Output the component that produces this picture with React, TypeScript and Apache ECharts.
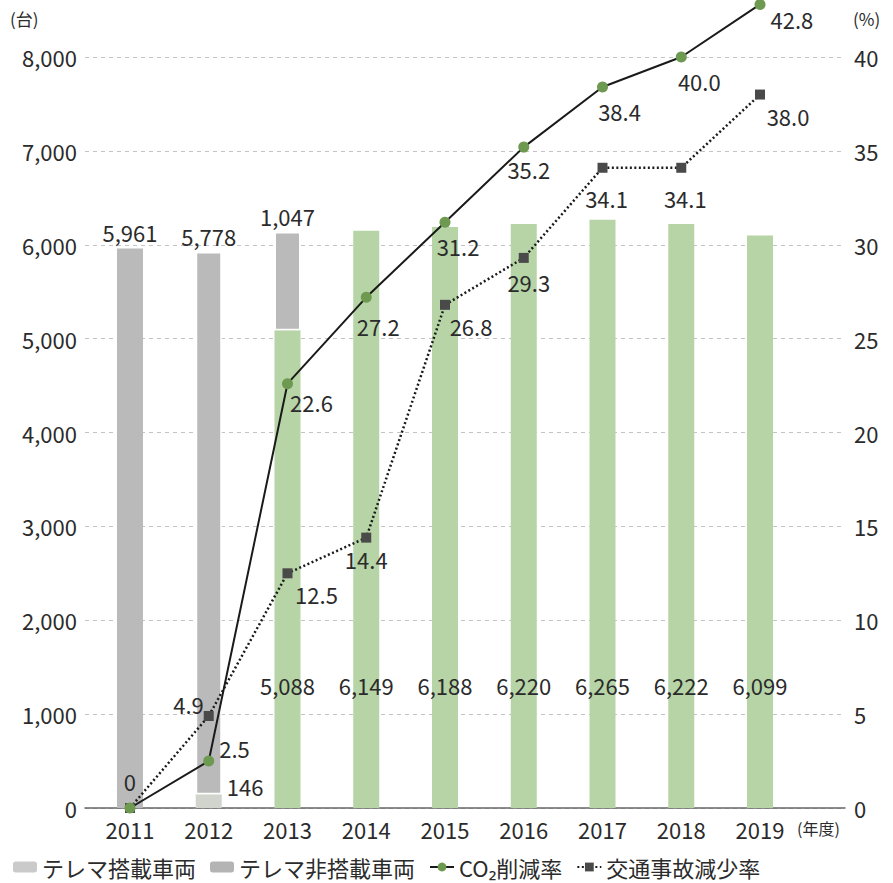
import React, { useEffect, useRef } from "react";
import * as echarts from "echarts";

const years = ["2011", "2012", "2013", "2014", "2015", "2016", "2017", "2018", "2019"];
const equipped = [0, 146, 5088, 6149, 6188, 6220, 6265, 6222, 6099];
const nonEquipped = [5961, 5778, 1047, 0, 0, 0, 0, 0, 0];
const co2Rate = [0, 2.5, 22.6, 27.2, 31.2, 35.2, 38.4, 40.0, 42.8];
const accidentRate = [0, 4.9, 12.5, 14.4, 26.8, 29.3, 34.1, 34.1, 38.0];
const leftTicks = { min: 0, max: 8000, interval: 1000 };
const rightTicks = { min: 0, max: 40, interval: 5 };

// label placement (style only)
const co2LabelPlace: any[] = [
  null,
  ["right", [0, -13]],
  ["bottom", [24, -3]],
  ["bottom", [12, 7]],
  ["bottom", [13, 2]],
  ["bottom", [5, 0]],
  ["bottom", [17, 2]],
  ["bottom", [18, 2]],
  ["right", [0, 15]],
];
const accLabelPlace: any[] = [
  ["top", [0, -6]],
  ["left", [5, -12]],
  ["bottom", [29, 0]],
  ["bottom", [0, 0]],
  ["bottom", [26, 0]],
  ["bottom", [5, 3]],
  ["bottom", [4, 9]],
  ["bottom", [4, 9]],
  ["bottom", [28, 0]],
];

const FONT = "'Noto Sans CJK JP', 'Noto Sans', sans-serif";
const TXT = "#2b2b2b";
const GREEN = "#b6d4a6";
const GRAY = "#bababa";

const fmt = (v: number) => String(v).replace(/\B(?=(\d{3})+(?!\d))/g, ",");

export default function App() {
  const ref = useRef<HTMLDivElement>(null);
  useEffect(() => {
    if (!ref.current) return;
    const chart = echarts.init(ref.current, undefined, { renderer: "svg" });
    const labelBase = { fontSize: 22, color: TXT, fontFamily: FONT };

    const equippedData = equipped.map((v, i) => {
      const item: any = { value: v };
      if (i === 0) item.label = { show: false };
      else if (i === 1) {
        item.itemStyle = { color: "#d0d4cc" };
        item.label = { show: true, position: "right", offset: [0, -15] };
      }
      return item;
    });
    const nonEquippedData = nonEquipped.map((v, i) => {
      const item: any = { value: v, label: { show: v > 0 } };
      if (v > 0 && equipped[i] > 0) item.itemStyle = { borderColor: "#fff", borderWidth: 1.5 };
      return item;
    });

    const co2Data = co2Rate.map((v, i) => {
      const p = co2LabelPlace[i];
      return p
        ? { value: v, label: { show: true, position: p[0], offset: p[1] } }
        : { value: v, label: { show: false } };
    });
    const accData = accidentRate.map((v, i) => {
      const p = accLabelPlace[i];
      return { value: v, label: { show: true, position: p[0], offset: p[1] } };
    });
    const pct = (p: any) => (p.value === 0 ? "0" : Number(p.value).toFixed(1));

    chart.setOption({
      animation: false,
      textStyle: { fontFamily: FONT },
      grid: [
        { left: 85, right: 48, top: 57, bottom: 75 },
        { left: 90.6, right: 93.6, top: 57, bottom: 75 },
      ],
      xAxis: [
        {
          type: "category",
          gridIndex: 0,
          data: [""],
          axisLine: { show: true, lineStyle: { color: "#666", width: 1.5 } },
          axisTick: { show: false },
          axisLabel: { show: false },
        },
        {
          type: "category",
          gridIndex: 1,
          data: years,
          axisLine: { show: false },
          axisTick: { show: false },
          axisLabel: { fontSize: 22, color: TXT, margin: 10, fontFamily: FONT },
        },
      ],
      yAxis: [
        {
          type: "value",
          gridIndex: 0,
          position: "left",
          ...leftTicks,
          axisLine: { show: false },
          axisTick: { show: false },
          axisLabel: { fontSize: 22, color: TXT, margin: 8, fontFamily: FONT, formatter: (v: number) => fmt(v) },
          splitLine: { show: true, lineStyle: { color: "#c4c4c4", type: [4, 4], width: 1 } },
        },
        {
          type: "value",
          gridIndex: 0,
          position: "right",
          ...rightTicks,
          axisLine: { show: false },
          axisTick: { show: false },
          axisLabel: { fontSize: 22, color: TXT, margin: 9, fontFamily: FONT },
          splitLine: { show: false },
        },
        { type: "value", gridIndex: 1, position: "left", ...leftTicks, show: false, splitLine: { show: false } },
        { type: "value", gridIndex: 1, position: "right", ...rightTicks, show: false, splitLine: { show: false } },
      ],
      legend: {
        left: 8,
        top: 851,
        itemGap: 14,
        itemWidth: 24,
        itemHeight: 11,
        textStyle: { fontSize: 22, color: TXT, fontFamily: FONT },
        data: [
          { name: "テレマ搭載車両", icon: "roundRect", itemStyle: { color: "#cacaca" } },
          { name: "テレマ非搭載車両", icon: "roundRect", itemStyle: { color: "#b4b4b4" } },
          { name: "CO₂削減率" },
          { name: "交通事故減少率" },
        ],
      },
      graphic: [
        { type: "text", left: 10, top: 10, style: { text: "(台)", fontSize: 17, fill: TXT, fontFamily: FONT } },
        { type: "text", left: 853, top: 10, style: { text: "(%)", fontSize: 17, fill: TXT, fontFamily: FONT } },
        { type: "text", left: 797, top: 820, style: { text: "(年度)", fontSize: 16, fill: TXT, fontFamily: FONT } },
      ],
      series: [
        {
          name: "テレマ搭載車両",
          type: "bar",
          xAxisIndex: 1,
          yAxisIndex: 2,
          stack: "veh",
          barWidth: 26,
          itemStyle: { color: GREEN },
          label: {
            show: true,
            position: "insideBottom",
            offset: [0, -107],
            ...labelBase,
            formatter: (p: any) => fmt(p.value),
          },
          data: equippedData,
        },
        {
          name: "テレマ非搭載車両",
          type: "bar",
          xAxisIndex: 1,
          yAxisIndex: 2,
          stack: "veh",
          barWidth: 26,
          itemStyle: { color: GRAY },
          label: {
            show: true,
            position: "top",
            ...labelBase,
            formatter: (p: any) => (p.value ? fmt(p.value) : ""),
          },
          data: nonEquippedData,
        },
        {
          name: "CO₂削減率",
          type: "line",
          xAxisIndex: 1,
          yAxisIndex: 3,
          clip: false,
          z: 5,
          symbol: "circle",
          symbolSize: 11,
          itemStyle: { color: "#6e9950" },
          lineStyle: { color: "#1a1a1a", width: 2 },
          label: { ...labelBase, formatter: pct },
          data: co2Data,
        },
        {
          name: "交通事故減少率",
          type: "line",
          xAxisIndex: 1,
          yAxisIndex: 3,
          clip: false,
          z: 4,
          symbol: "rect",
          symbolSize: 10,
          itemStyle: { color: "#4a4a4a" },
          lineStyle: { color: "#1a1a1a", width: 2.5, type: [2, 2.5] },
          label: { ...labelBase, formatter: pct },
          data: accData,
        },
      ],
    });
    return () => chart.dispose();
  }, []);
  return (
    <div
      ref={ref}
      style={{ position: "absolute", left: 0, top: 0, width: 893, height: 883, background: "#fff" }}
    />
  );
}
